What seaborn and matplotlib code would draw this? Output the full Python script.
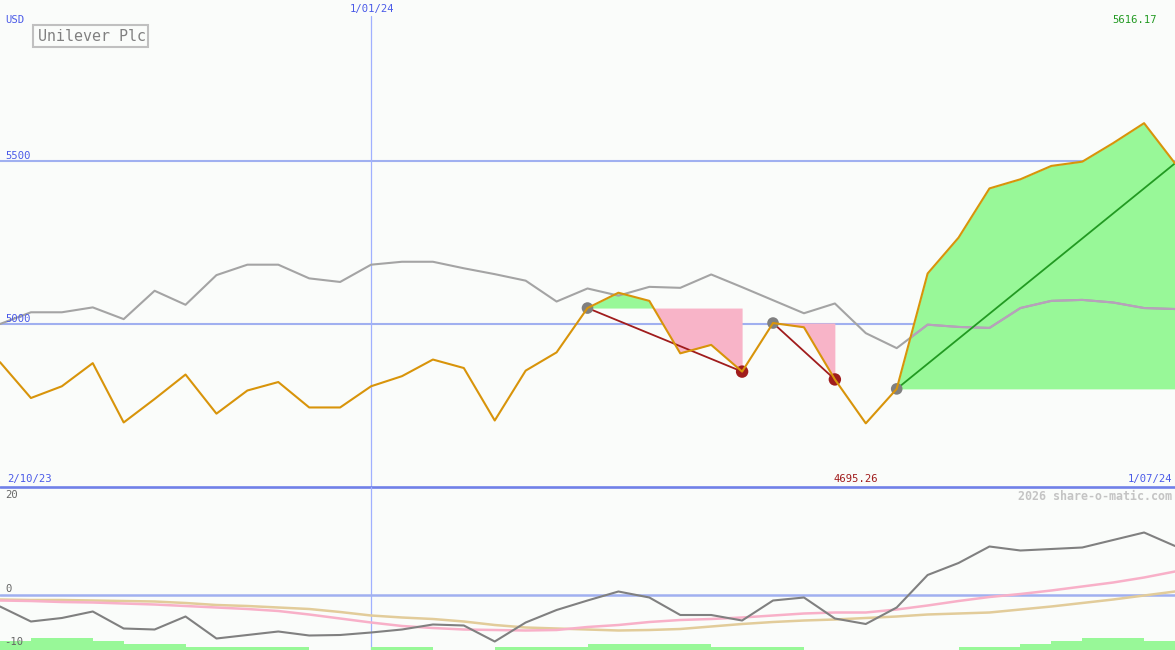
import matplotlib
matplotlib.use("Agg")
import matplotlib.pyplot as plt
from matplotlib.patches import Rectangle
from matplotlib.path import Path
import numpy as np
import pandas as pd
import seaborn as sns

# ---- data (weekly points) ----
title = "Unilever Plc"
currency = "USD"
date_labels = ["2/10/23", "1/01/24", "1/07/24"]
date_pos = [0, 12, 38]
price_ticks = [5500, 5000]
osc_ticks = [20, 0, -10]

close = [4883, 4773, 4809, 4880, 4698, 4770, 4845, 4725, 4796, 4822,
         4744, 4744, 4809, 4840, 4891, 4865, 4704, 4857, 4913, 5049,
         5096, 5071, 4910, 4936, 4854, 5003, 4990, 4830, 4695.26, 4801,
         5155, 5265, 5416, 5444, 5485, 5498, 5555, 5616.17, 5493]
benchmark = [5000, 5036, 5036, 5051, 5015, 5102, 5059, 5150, 5182, 5182,
             5140, 5129, 5182, 5191, 5191, 5171, 5153, 5133, 5069, 5109,
             5087, 5114, 5111, 5152, 5113, 5073, 5033, 5063, 4972, 4926,
             4998, 4991, 4988, 5049, 5071, 5074, 5066, 5049, 5046]
osc = [-2.3, -5.3, -4.6, -3.3, -6.7, -6.9, -4.3, -8.7, -8.0, -7.3,
       -8.1, -8.0, -7.5, -6.9, -5.9, -6.1, -9.3, -5.5, -3.0, -1.1,
       0.7, -0.5, -4.0, -4.0, -5.1, -1.1, -0.5, -4.7, -5.8, -2.5,
       4.0, 6.4, 9.7, 8.9, 9.2, 9.5, 11.0, 12.5, 9.8]
osc_fast = [-1.1, -1.2, -1.4, -1.5, -1.7, -1.9, -2.2, -2.5, -2.8, -3.2,
            -3.9, -4.7, -5.5, -6.2, -6.6, -6.9, -7.0, -7.1, -7.0, -6.4,
            -6.0, -5.4, -5.0, -4.8, -4.5, -4.1, -3.7, -3.5, -3.5, -2.9,
            -2.1, -1.2, -0.4, 0.2, 0.9, 1.7, 2.5, 3.5, 4.7]
osc_slow = [-0.9, -1.0, -1.0, -1.1, -1.2, -1.3, -1.6, -2.0, -2.2, -2.5,
            -2.8, -3.4, -4.1, -4.5, -4.8, -5.3, -6.0, -6.5, -6.7, -6.9,
            -7.1, -7.0, -6.8, -6.3, -5.8, -5.4, -5.1, -4.9, -4.6, -4.3,
            -3.9, -3.7, -3.5, -2.9, -2.3, -1.6, -0.9, -0.1, 0.7]
strength = [3, 4, 4, 3, 2, 2, 1, 1, 1, 1, 0, 0, 1, 1, 0, 0, 1, 1, 1, 2,
            2, 2, 2, 1, 1, 1, 0, 0, 0, 0, 0, 1, 1, 2, 3, 4, 4, 3]
peaks = [19, 25, 29]
troughs = [24, 27]
swings = [(19, 24), (25, 27), (29, 38)]

df = pd.DataFrame({"week": np.arange(len(close)), "close": close, "bench": benchmark,
                   "osc": osc, "fast": osc_fast, "slow": osc_slow})

W, H = 1175, 650
bg = "#fafcfa"
grid_c = "#a0b0f0"
label_blue = "#4a5ae8"
green_fill = "#98f898"
pink_fill = "#f8b4c8"
dark_red = "#a01c1c"

sns.set_style("white")
plt.rcParams["font.family"] = ["DejaVu Sans Mono", "DejaVu Sans"]

fig = plt.figure(figsize=(W / 100, H / 100), dpi=100, facecolor=bg)
ax = fig.add_axes([0, 163 / H, 1, 487 / H])
ax2 = fig.add_axes([0, 0, 1, 163 / H])
for a in (ax, ax2):
    a.set_facecolor(bg)
    a.set_axis_off()
    a.set_xlim(0, len(close) - 1)
ax.set_ylim(4500, 5994)
ax2.set_ylim(-11, 21.6)


def px(x, y):
    return x / W, 1 - y / H


# ---- main panel ----
for t in price_ticks:
    ax.axhline(t, color=grid_c, lw=1.5, zorder=0)
ax.axvline(date_pos[1], ymax=1 - 16 / 487, color="#a0b0ff", lw=0.9, zorder=0)
ax2.axvline(date_pos[1], color="#a0b0ff", lw=0.9, zorder=0)
ax.axhline(4500, color="#7080e8", lw=1.9, zorder=5, clip_on=False)

c = np.array(close, dtype=float)
x = df.week.values
last_fill = None
for s, e in swings:
    xs, ys = x[s:e + 1], c[s:e + 1]
    base = c[s]
    last_fill = ax.fill_between(xs, ys, base, where=ys >= base, interpolate=True,
                                color=green_fill, lw=0, zorder=1)
    ax.fill_between(xs, ys, base, where=ys < base, interpolate=True,
                    color=pink_fill, lw=0, zorder=1)

sns.lineplot(data=df, x="week", y="bench", ax=ax, color="#a4a4a4", lw=1.5, zorder=2)
# benchmark line appears lavender where it crosses the green area
sns.lineplot(data=df, x="week", y="bench", ax=ax, color="#b8a0bc", lw=1.5, zorder=2)
clip = Path.make_compound_path(*last_fill.get_paths())
ax.lines[-1].set_clip_path(clip, ax.transData)

for s, e in swings:
    col = "#229a22" if c[e] > c[s] else dark_red
    ax.plot([x[s], x[e]], [c[s], c[e]], color=col, lw=1.3, zorder=3)

sns.scatterplot(x=x[peaks], y=c[peaks], ax=ax, color="#808080", s=70,
                edgecolor="none", zorder=3)
sns.scatterplot(x=x[troughs], y=c[troughs], ax=ax, color=dark_red, s=80,
                edgecolor="none", zorder=3)
sns.lineplot(data=df, x="week", y="close", ax=ax, color="#d8940a", lw=1.5, zorder=4)

# ---- lower panel ----
ax2.axhline(0, color=grid_c, lw=1.8, zorder=0)
ax2.bar(x[:-1], np.array(strength) * 0.62, width=1, align="edge", bottom=-11,
        color=green_fill, lw=0, zorder=1)
sns.lineplot(data=df, x="week", y="slow", ax=ax2, color="#e2cc9a", lw=1.8, zorder=2)
sns.lineplot(data=df, x="week", y="fast", ax=ax2, color="#f8b0c8", lw=1.8, zorder=2)
sns.lineplot(data=df, x="week", y="osc", ax=ax2, color="#808080", lw=1.5, zorder=3)

# ---- texts ----
fs = 7.6
fig.text(*px(5, 20), currency, color=label_blue, fontsize=fs, va="center")
fig.text(*px(372, 9), date_labels[1], color=label_blue, fontsize=fs, va="center", ha="center")
fig.text(*px(1157, 20), f"{max(close):.2f}", color="#229a22", fontsize=fs, va="center", ha="right")
fig.text(*px(5, 156), str(price_ticks[0]), color=label_blue, fontsize=fs, va="center")
fig.text(*px(5, 319), str(price_ticks[1]), color=label_blue, fontsize=fs, va="center")
fig.text(*px(7, 479), date_labels[0], color=label_blue, fontsize=fs, va="center")
fig.text(*px(878, 479), f"{min(close):.2f}", color=dark_red, fontsize=fs, va="center", ha="right")
fig.text(*px(1172, 479), date_labels[2], color=label_blue, fontsize=fs, va="center", ha="right")
fig.text(*px(1172, 496), "2026 share-o-matic.com", color="#c4c4c4", fontsize=8.4,
         fontweight="bold", va="center", ha="right")
fig.text(*px(5, 495), str(osc_ticks[0]), color="#666666", fontsize=fs, va="center")
fig.text(*px(5, 589), str(osc_ticks[1]), color="#666666", fontsize=fs, va="center")
fig.text(*px(4, 642), str(osc_ticks[2]), color="#666666", fontsize=fs, va="center")

fig.add_artist(Rectangle(px(33, 47), 115 / W, 22 / H, transform=fig.transFigure,
                         fill=False, edgecolor="#c0c0c0", lw=1.5))
fig.text(*px(38, 36.5), title, color="#808080", fontsize=10.8, va="center")

fig.savefig("out.png", dpi=100, facecolor=bg)
